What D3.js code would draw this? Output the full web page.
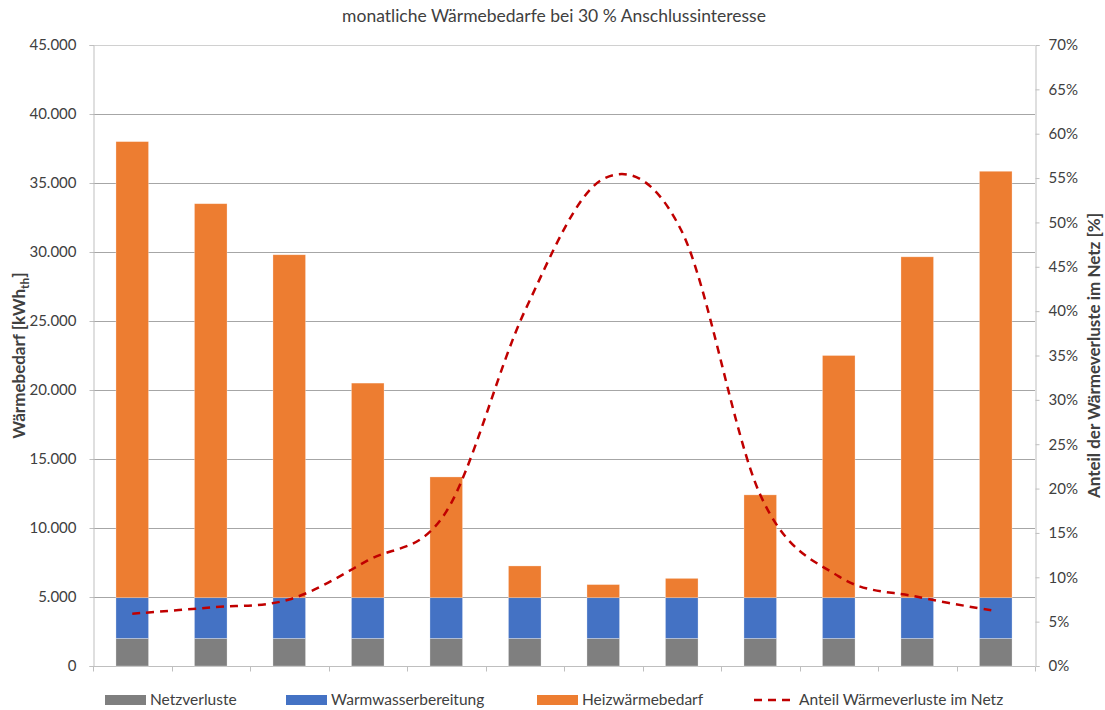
<!DOCTYPE html>
<html><head><meta charset="utf-8">
<script src="https://cdn.jsdelivr.net/npm/d3@7"></script>
<style>body{margin:0;background:#fff}svg{display:block}text{font-family:Lato,"Open Sans",sans-serif;fill:#404040}</style>
</head><body><svg id="c" width="1105" height="710"></svg>
<script>
const categories = ["Jan","Feb","Mär","Apr","Mai","Jun","Jul","Aug","Sep","Okt","Nov","Dez"];
const netzverluste = [2000,2000,2000,2000,2000,2000,2000,2000,2000,2000,2000,2000];
const warmwasser = [2950,2950,2950,2950,2950,2950,2950,2950,2950,2950,2950,2950];
const heizwaerme = [33050,28550,24850,15550,8750,2300,950,1400,7450,17550,24700,30900];
const anteilVerluste = [5.9,6.6,7.5,11.9,17.4,40.0,54.9,49.0,19.3,10.1,7.8,6.2];
const leftTicks = [0,5000,10000,15000,20000,25000,30000,35000,40000,45000];
const rightTicks = [0,5,10,15,20,25,30,35,40,45,50,55,60,65,70];
const seriesNames = ["Netzverluste","Warmwasserbereitung","Heizwärmebedarf","Anteil Wärmeverluste im Netz"];
const colors = ["#7f7f7f","#4472c4","#ed7d31","#c00000"];

const svg = d3.select("#c");
const L=93,R=1035,T=45,B=666;
const x = d3.scaleBand().domain(categories).range([L,R]).paddingInner(0.585).paddingOuter(0.2925);
const y = d3.scaleLinear().domain([0,45000]).range([B,T]);
const y2 = d3.scaleLinear().domain([0,70]).range([B,T]);
const fmt = d3.formatLocale({decimal:",",thousands:".",grouping:[3],currency:["","€"]}).format(",.0f");

// gridlines
svg.append("g").selectAll("line").data(leftTicks).join("line")
  .attr("x1",L).attr("x2",R).attr("y1",d=>Math.round(y(d))+0.5).attr("y2",d=>Math.round(y(d))+0.5)
  .attr("stroke",d=>d===45000?"#d0d0d0":"#a6a6a6").attr("stroke-width",1);

// left axis
const ga = svg.append("g").attr("transform",`translate(${L+0.5},0)`)
  .call(d3.axisLeft(y).tickValues(leftTicks).tickFormat(fmt).tickSize(4).tickPadding(13));
ga.select(".domain").attr("stroke","#bfbfbf");
ga.selectAll(".tick line").attr("stroke","#bfbfbf");
ga.selectAll("text").style("font-size","15px").attr("fill","#404040");

// right axis
const gr = svg.append("g").attr("transform",`translate(${R+0.5},0)`)
  .call(d3.axisRight(y2).tickValues(rightTicks).tickFormat(d=>d+"%").tickSize(4).tickPadding(9));
gr.select(".domain").attr("stroke","#bfbfbf");
gr.selectAll(".tick line").attr("stroke","#bfbfbf");
gr.selectAll("text").style("font-size","15px").attr("fill","#404040");

// bottom axis with boundary ticks
const gb = svg.append("g").attr("transform",`translate(0,${B+0.5})`);
gb.append("line").attr("x1",L).attr("x2",R).attr("stroke","#bfbfbf");
const bounds = categories.map(c=>x(c)-x.step()*x.paddingInner()/2).concat([R]);
gb.selectAll(".bt").data(bounds).join("line").attr("class","bt")
  .attr("x1",d=>Math.round(d)+0.5).attr("x2",d=>Math.round(d)+0.5).attr("y1",0).attr("y2",5).attr("stroke","#bfbfbf");

// stacked bars
const stackData = categories.map((c,i)=>({cat:c,n:netzverluste[i],w:warmwasser[i],h:heizwaerme[i]}));
const stack = d3.stack().keys(["n","w","h"])(stackData);
svg.append("g").selectAll("g").data(stack).join("g").attr("fill",(d,i)=>colors[i])
  .selectAll("rect").data(d=>d).join("rect")
  .attr("x",d=>x(d.data.cat)).attr("width",x.bandwidth())
  .attr("y",d=>y(d[1])).attr("height",d=>y(d[0])-y(d[1]))
  .attr("stroke","#fff").attr("stroke-opacity",0.4).attr("stroke-width",0.7);

// line
const line = d3.line().x((d,i)=>x(categories[i])+x.bandwidth()/2).y(d=>y2(d)).curve(d3.curveCatmullRom.alpha(0));
svg.append("path").datum(anteilVerluste).attr("d",line).attr("fill","none")
  .attr("stroke",colors[3]).attr("stroke-width",2.5).attr("stroke-dasharray","8,6");

// title
svg.append("text").attr("x",554).attr("y",22).attr("text-anchor","middle").style("font-size","17.5px")
  .text("monatliche Wärmebedarfe bei 30 % Anschlussinteresse");

// axis titles
const lt = svg.append("text").attr("transform",`translate(25,${(T+B)/2}) rotate(-90)`).attr("text-anchor","middle")
  .style("font-size","17px").style("font-weight","bold").attr("fill","#000");
lt.append("tspan").text("Wärmebedarf [kWh");
lt.append("tspan").attr("dy",4).style("font-size","12px").text("th");
lt.append("tspan").attr("dy",-4).text("]");
svg.append("text").attr("transform",`translate(1100,${(T+B)/2}) rotate(-90)`).attr("text-anchor","middle")
  .style("font-size","17px").style("font-weight","bold").attr("fill","#000")
  .text("Anteil der Wärmeverluste im Netz [%]");

// legend
const legX = [105,286,537,754];
const lg = svg.append("g");
seriesNames.forEach((s,i)=>{
  if(i<3){
    lg.append("rect").attr("x",legX[i]).attr("y",695).attr("width",41).attr("height",10).attr("fill",colors[i]);
  } else {
    lg.append("line").attr("x1",legX[i]).attr("x2",legX[i]+39).attr("y1",700).attr("y2",700)
      .attr("stroke",colors[3]).attr("stroke-width",2.5).attr("stroke-dasharray","8,6");
  }
  lg.append("text").attr("x",legX[i]+45).attr("y",705).style("font-size","15.5px").text(s);
});
</script></body></html>
